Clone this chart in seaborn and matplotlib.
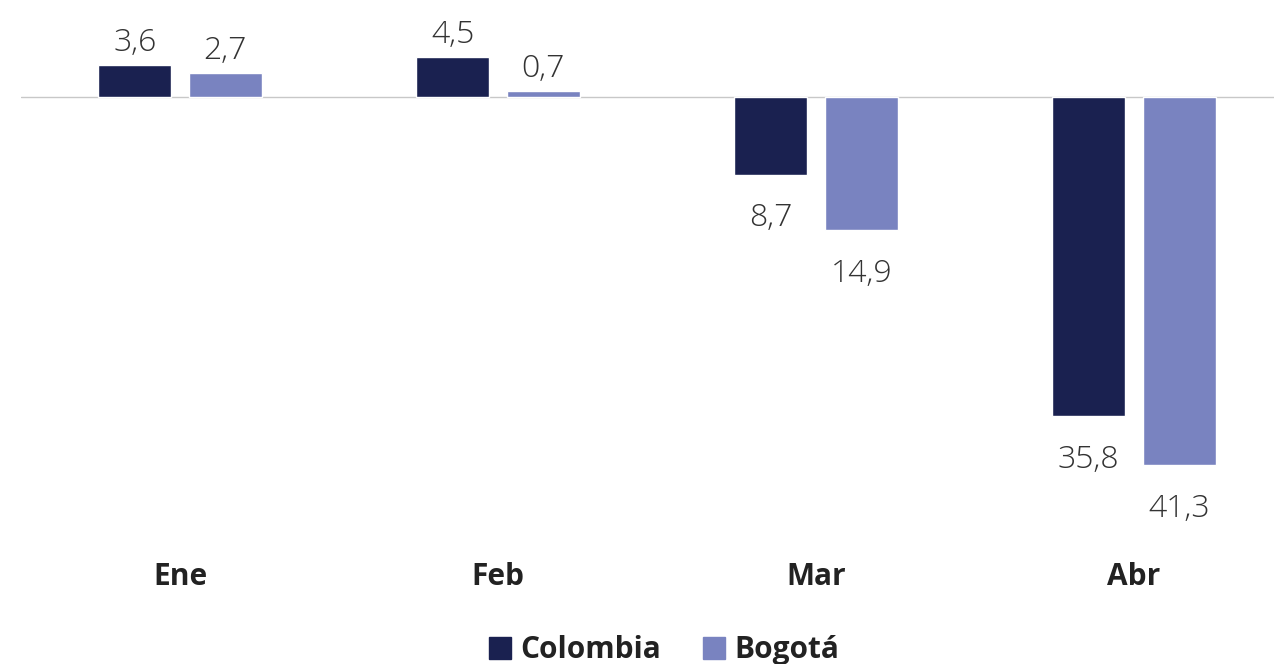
import numpy as np
import pandas as pd
import matplotlib
matplotlib.use("Agg")
import matplotlib.pyplot as plt
import seaborn as sns

# ---------------- datos ----------------
meses = ["Ene", "Feb", "Mar", "Abr"]
colombia = [3.6, 4.5, -8.7, -35.8]
bogota = [2.7, 0.7, -14.9, -41.3]
series = ["Colombia", "Bogotá"]
colores = ["#1a2150", "#7983c0"]

df = pd.DataFrame({
    "mes": meses * 2,
    "valor": colombia + bogota,
    "serie": [series[0]] * 4 + [series[1]] * 4,
})

sns.set_theme(style="white")
plt.rcParams["font.family"] = ["Open Sans", "DejaVu Sans"]

fig = plt.figure(figsize=(12.74, 6.64), dpi=100)
ax = fig.add_axes([21 / 1274, 1 - 530 / 664, 1 - 21 / 1274, 530 / 664])

sns.barplot(data=df, x="mes", y="valor", hue="serie", palette=colores,
            width=0.57, gap=0.2, ax=ax, legend=False, saturation=1)

ax.set_xlim(-0.5, 3.44)
ax.set_ylim(-48.6, 10.9)
ax.axhline(0, color="#c8c8c8", lw=1, zorder=0)

# etiquetas de valor (sin signo, coma decimal)
for cont in ax.containers:
    for rect in cont:
        h = rect.get_height()
        y0 = rect.get_y()
        x = rect.get_x() + rect.get_width() / 2
        txt = f"{abs(h):.1f}".replace(".", ",")
        if y0 < 0 or h < 0:
            ybar = min(y0, y0 + h)
            ax.annotate(txt, (x, ybar), xytext=(0, -20), textcoords="offset points",
                        ha="center", va="top", fontsize=23, fontweight="light",
                        color="#333333")
        else:
            ax.annotate(txt, (x, y0 + h), xytext=(0, 4), textcoords="offset points",
                        ha="center", va="bottom", fontsize=23, fontweight="light",
                        color="#333333")

ax.set_xlabel("")
ax.set_ylabel("")
ax.set_yticks([])
ax.tick_params(axis="x", length=0, pad=23)
ax.set_xticks(range(len(meses)))
ax.set_xticklabels(meses, fontsize=21.5, fontweight="bold", color="#222222")
sns.despine(ax=ax, left=True, bottom=True)

handles = [plt.Rectangle((0, 0), 1, 1, color=c) for c in colores]
leg = fig.legend(handles, series, loc="center", bbox_to_anchor=(0.521, 0.021),
                 ncol=2, frameon=False, handlelength=0.75, handleheight=0.75,
                 handletextpad=0.3, columnspacing=1.4,
                 prop={"size": 21.5, "weight": "bold"})
for t in leg.get_texts():
    t.set_color("#222222")

fig.savefig("out.png", dpi=100)
